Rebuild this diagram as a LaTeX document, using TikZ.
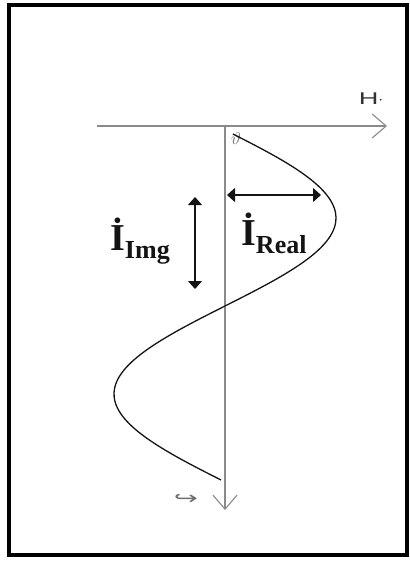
\documentclass[tikz,border=0pt]{standalone}
\usepackage{fontspec}
\setmainfont{Liberation Serif}
\setsansfont{Liberation Sans}
\newfontfamily\arrowfont{DejaVu Sans}
\usetikzlibrary{arrows.meta}
\definecolor{phInk}{HTML}{141414}
\definecolor{phAxis}{HTML}{8A8A8A}
\definecolor{phMuted}{HTML}{6E6E6E}
\tikzset{
  frameBox/.style={draw=black, line width=4.6pt},
  axis/.style={-{Straight Barb[length=14pt,width=24pt,line width=1.1pt]},
    draw=phAxis, line width=1.4pt},
  wave/.style={draw=phInk, line width=1.3pt, smooth},
  span/.style={{Triangle[length=8pt,width=14pt]}-{Triangle[length=8pt,width=14pt]},
    draw=phInk, line width=1.2pt},
  phasorLabel/.style={anchor=base west, inner sep=0pt, text=phInk,
    font=\bfseries},
  tinyMark/.style={inner sep=0pt, text=phMuted},
}
\newcommand{\phasorI}[1]{%
  {\fontsize{38}{40}\selectfont\.{I}}%
  {\fontsize{26}{28}\selectfont\raisebox{-8pt}{#1}}}

\begin{document}
\begin{tikzpicture}[x=1pt,y=-1pt]
  \useasboundingbox (0,0) rectangle (409,561);
  \draw[frameBox] (9,5) rectangle (407,555);

  % axes
  \coordinate (origin) at (225,126);
  \coordinate (hstart) at (97,126);
  \coordinate (hend) at (387,126);
  \coordinate (vend) at (225,510);
  \draw[axis] (hstart) -- (hend);
  \draw[axis] (origin) -- (vend);
  \node[tinyMark, text=black!80, font=\sffamily\fontsize{17}{17}\selectfont]
    (hlabel) at (371,99) {\scalebox{1.6}[1]{H}$\cdot$};
  \node[tinyMark, font=\arrowfont\fontsize{18}{18}\selectfont] (vlabel)
    at (186,499) {\scalebox{1.6}[1]{↪}};
  \node[tinyMark, font=\bfseries\fontsize{19}{19}\selectfont] (angle)
    at (236,139) {$\vartheta$};

  % the wave along the vertical axis
  \draw[wave] plot[domain=134:480, samples=80]
    ({225+111*sin(1.0227*(\x-130))},\x);

  % real and imaginary spans
  \coordinate (realL) at (227,195);
  \coordinate (realR) at (321,195);
  \draw[span] (realL) -- (realR);
  \coordinate (imgT) at (195,197);
  \coordinate (imgB) at (195,289);
  \draw[span] (imgT) -- (imgB);

  \node[phasorLabel] (ireal) at (241,245) {\phasorI{Real}};
  \node[phasorLabel] (iimg) at (110,250) {\phasorI{Img}};
\end{tikzpicture}
\end{document}
